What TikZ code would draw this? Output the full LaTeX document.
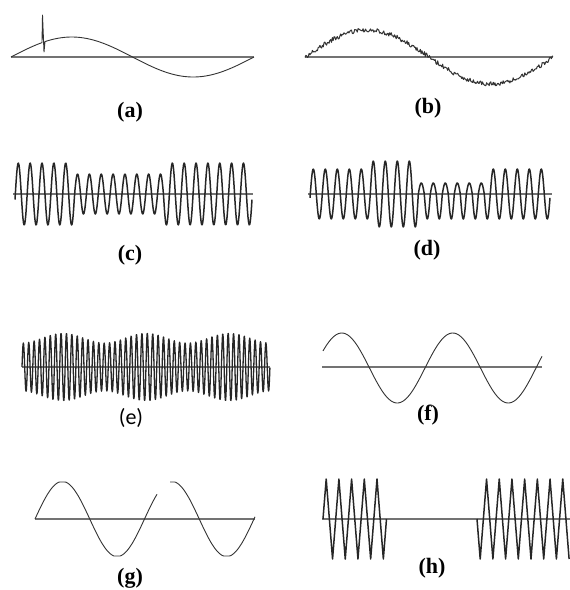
\documentclass[tikz,border=0pt]{standalone}
\usepackage{fontspec}
\setmainfont{Liberation Serif}
\newfontfamily\capfont{Carlito}
\usetikzlibrary{positioning}

\begin{document}
\begin{tikzpicture}[
    x=1pt, y=-1pt,
    axisline/.style={draw=black!55, line width=1.2pt},
    wave/.style={draw=black!80, line width=0.9pt, line join=round},
    dense/.style={draw=black!85, line width=1.5pt, line join=round},
    tag/.style={font=\fontsize{22}{22}\selectfont\bfseries, inner sep=0pt}
]
\useasboundingbox (0,0) rectangle (570,590);
\pgfmathsetseed{7}

\draw[axisline] (11,57) -- (254,57);
\draw[wave] plot[domain=11:42, samples=20] (\x,{57-20*sin((\x-11)/243*360)})
    -- (42.5,15) -- (44,52) -- (45,41.6)
    -- plot[domain=45:254, samples=100] (\x,{57-20*sin((\x-11)/243*360)});
\node[tag] (tag-a) at (130,112) {(a)};

\draw[axisline] (305,57) -- (553,57);
\draw[wave, line width=1pt] plot[domain=305:553, samples=300] (\x,{57-27*sin((\x-305)/248*360)+2.2*rand});
\node[tag] (tag-b) at (428,108) {(b)};

\draw[axisline] (13,194) -- (253,194);
\draw[dense] plot[domain=15:252, samples=420]
    (\x,{194-(\x<74.6 ? 31 : (\x<163.5 ? 20 : 31))*cos((\x-18.3)/11.85*360)});
\node[tag] (tag-c) at (130,255) {(c)};

\draw[axisline] (308,194) -- (552,194);
\draw[dense] plot[domain=310:550, samples=480]
    (\x,{194-(\x<370.3 ? 25 : (\x<418.3 ? 33 : (\x<490.3 ? (cos((\x-313.3)/12*360)>0 ? 11 : 25) : 25)))*cos((\x-313.3)/12*360)});
\node[tag] (tag-d) at (427,250) {(d)};

\draw[axisline] (22,367) -- (270,367);
\draw[dense, line width=1.3pt] plot[domain=0:46, samples=740]
    ({22+5.39*\x},{367-(29+5*cos((5.39*\x-41)/83*360))*sin(mod(\x,1)*360)});
\node[tag, font=\fontsize{22}{22}\selectfont\capfont] (tag-e) at (131,418) {(e)};

\draw[axisline] (322,367) -- (542,367);
\draw[wave] plot[domain=323:542, samples=150] (\x,{368-35*sin((\x-314)/111*360)});
\node[tag] (tag-f) at (428,415) {(f)};

\draw[axisline] (35,519) -- (255,519);
\draw[wave] plot[domain=35:157, samples=100] (\x,{519-max(-37,min(37,37.6*sin((\x-35)/109.5*360)))});
\draw[wave] plot[domain=170:255, samples=70] (\x,{519-max(-37,min(37,37.6*sin((\x-35)/109.5*360)))});
\node[tag] (tag-g) at (130,578) {(g)};

\draw[axisline] (322,519) -- (570,519);
\draw[dense] (323,519) \foreach \k in {0,...,9} { -- ({326.2+6.35*\k},{519-40*(1-2*mod(\k,2))}) } -- (386.5,519);
\draw[dense] (477,519) \foreach \k in {0,...,14} { -- ({480.2+6.35*\k},{519+40*(1-2*mod(\k,2))}) };
\node[tag] (tag-h) at (432,568) {(h)};
\end{tikzpicture}
\end{document}
